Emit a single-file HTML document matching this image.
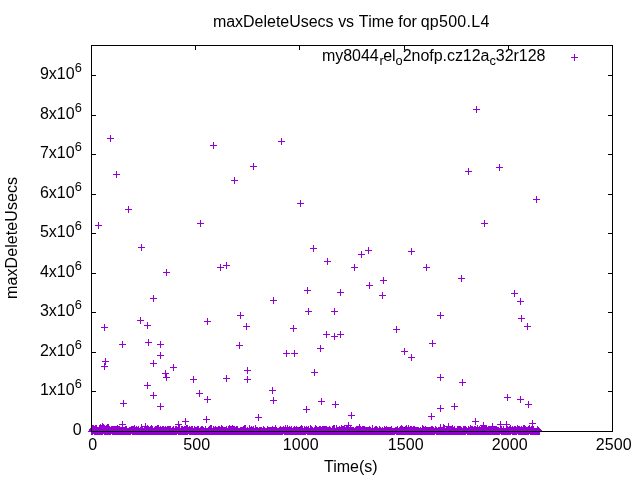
<!DOCTYPE html>
<html><head><meta charset="utf-8"><title>maxDeleteUsecs vs Time for qp500.L4</title>
<style>
html,body{margin:0;padding:0;background:#fff;}
body{width:640px;height:480px;overflow:hidden;}
svg{display:block;will-change:transform;}
text{font-family:"Liberation Sans",sans-serif;font-size:16px;fill:#000;}
</style></head><body>
<svg width="640" height="480" viewBox="0 0 640 480">
<path d="M91 431.5h5M613 431.5h-5M91 391.5h5M613 391.5h-5M91 352.5h5M613 352.5h-5M91 312.5h5M613 312.5h-5M91 273.5h5M613 273.5h-5M91 233.5h5M613 233.5h-5M91 194.5h5M613 194.5h-5M91 154.5h5M613 154.5h-5M91 115.5h5M613 115.5h-5M91 75.5h5M613 75.5h-5M91.5 432v-5M91.5 45v5M195.5 432v-5M195.5 45v5M299.5 432v-5M299.5 45v5M404.5 432v-5M404.5 45v5M508.5 432v-5M508.5 45v5M612.5 432v-5M612.5 45v5" stroke="#000" stroke-width="1" fill="none" shape-rendering="crispEdges"/>
<g id="labels">
<text x="81.75" y="434.9" text-anchor="end">0</text>
<text x="81.75" y="394.9" text-anchor="end">1x10<tspan dy="-6.8" font-size="12.8px">6</tspan></text>
<text x="81.75" y="355.9" text-anchor="end">2x10<tspan dy="-6.8" font-size="12.8px">6</tspan></text>
<text x="81.75" y="315.9" text-anchor="end">3x10<tspan dy="-6.8" font-size="12.8px">6</tspan></text>
<text x="81.75" y="276.9" text-anchor="end">4x10<tspan dy="-6.8" font-size="12.8px">6</tspan></text>
<text x="81.75" y="236.9" text-anchor="end">5x10<tspan dy="-6.8" font-size="12.8px">6</tspan></text>
<text x="81.75" y="197.9" text-anchor="end">6x10<tspan dy="-6.8" font-size="12.8px">6</tspan></text>
<text x="81.75" y="157.9" text-anchor="end">7x10<tspan dy="-6.8" font-size="12.8px">6</tspan></text>
<text x="81.75" y="118.9" text-anchor="end">8x10<tspan dy="-6.8" font-size="12.8px">6</tspan></text>
<text x="81.75" y="78.9" text-anchor="end">9x10<tspan dy="-6.8" font-size="12.8px">6</tspan></text>
<text x="92.75" y="450" text-anchor="middle" letter-spacing="0.1">0</text>
<text x="196.75" y="450" text-anchor="middle" letter-spacing="0.1">500</text>
<text x="300.75" y="450" text-anchor="middle" letter-spacing="0.1">1000</text>
<text x="405.75" y="450" text-anchor="middle" letter-spacing="0.1">1500</text>
<text x="509.75" y="450" text-anchor="middle" letter-spacing="0.1">2000</text>
<text x="613.75" y="450" text-anchor="middle" letter-spacing="0.1">2500</text>
<text x="212.9 226.21 235.09 243.07 254.6 263.48 267.01 275.89 280.32 289.2 300.73 308.71 317.59 325.57" y="27">maxDeleteUsecs</text>
<text x="338.13 346.03" y="27">vs</text>
<text x="358.64 368.28 371.71 384.91" y="27">Time</text>
<text x="398.34 402.68 411.46" y="27">for</text>
<text x="420.67 429.84 439 448.17 457.34 466.51 471.23 480.39" y="27">qp500.L4</text>
<text x="350.8" y="471.8" text-anchor="middle">Time(s)</text>
<text transform="translate(16.6,237.9) rotate(-90)" text-anchor="middle" letter-spacing="0.09">maxDeleteUsecs</text>
<text x="545.4" y="60.8" text-anchor="end" letter-spacing="-0.04">my8044<tspan dx="0.8" dy="4" font-size="12.8px">r</tspan><tspan dx="-0.4" dy="-4">el</tspan><tspan dy="4" font-size="12.8px">o</tspan><tspan dy="-4">2nofp.cz12a</tspan><tspan dy="4" font-size="12.8px">c</tspan><tspan dy="-4">32r128</tspan></text>
</g>
<path id="pts" d="M107 138.5h7M110.5 135v7M210 145.5h7M213.5 142v7M278 141.5h7M281.5 138v7M473 109.5h7M476.5 106v7M113 174.5h7M116.5 171v7M231 180.5h7M234.5 177v7M125 209.5h7M128.5 206v7M95 225.5h7M98.5 222v7M197 223.5h7M200.5 220v7M138 247.5h7M141.5 244v7M163 272.5h7M166.5 269v7M217 267.5h7M220.5 264v7M223 265.5h7M226.5 262v7M250 166.5h7M253.5 163v7M297 203.5h7M300.5 200v7M310 248.5h7M313.5 245v7M324 261.5h7M327.5 258v7M358 254.5h7M361.5 251v7M365 250.5h7M368.5 247v7M351 267.5h7M354.5 264v7M380 280.5h7M383.5 277v7M465 171.5h7M468.5 168v7M496 167.5h7M499.5 164v7M533 199.5h7M536.5 196v7M481 223.5h7M484.5 220v7M408 251.5h7M411.5 248v7M423 267.5h7M426.5 264v7M458 278.5h7M461.5 275v7M150 298.5h7M153.5 295v7M137 320.5h7M140.5 317v7M144 325.5h7M147.5 322v7M101 327.5h7M104.5 324v7M204 321.5h7M207.5 318v7M237 315.5h7M240.5 312v7M119 344.5h7M122.5 341v7M145 342.5h7M148.5 339v7M157 344.5h7M160.5 341v7M236 345.5h7M239.5 342v7M157 355.5h7M160.5 352v7M102 361.5h7M105.5 358v7M101 366.5h7M104.5 363v7M150 363.5h7M153.5 360v7M170 367.5h7M173.5 364v7M162 373.5h7M165.5 370v7M163 377.5h7M166.5 374v7M190 379.5h7M193.5 376v7M223 378.5h7M226.5 375v7M144 385.5h7M147.5 382v7M150 395.5h7M153.5 392v7M196 393.5h7M199.5 390v7M204 399.5h7M207.5 396v7M366 285.5h7M369.5 282v7M304 290.5h7M307.5 287v7M337 292.5h7M340.5 289v7M379 295.5h7M382.5 292v7M270 300.5h7M273.5 297v7M305 311.5h7M308.5 308v7M331 311.5h7M334.5 308v7M243 326.5h7M246.5 323v7M290 328.5h7M293.5 325v7M393 329.5h7M396.5 326v7M323 334.5h7M326.5 331v7M331 336.5h7M334.5 333v7M337 334.5h7M340.5 331v7M317 348.5h7M320.5 345v7M283 353.5h7M286.5 350v7M291 353.5h7M294.5 350v7M244 370.5h7M247.5 367v7M244 379.5h7M247.5 376v7M311 372.5h7M314.5 369v7M269 390.5h7M272.5 387v7M270 400.5h7M273.5 397v7M318 401.5h7M321.5 398v7M511 293.5h7M514.5 290v7M517 301.5h7M520.5 298v7M437 315.5h7M440.5 312v7M518 318.5h7M521.5 315v7M524 326.5h7M527.5 323v7M429 343.5h7M432.5 340v7M401 351.5h7M404.5 348v7M408 357.5h7M411.5 354v7M437 377.5h7M440.5 374v7M459 382.5h7M462.5 379v7M504 397.5h7M507.5 394v7M517 399.5h7M520.5 396v7M120 403.5h7M123.5 400v7M157 406.5h7M160.5 403v7M203 419.5h7M206.5 416v7M255 417.5h7M258.5 414v7M303 409.5h7M306.5 406v7M332 404.5h7M335.5 401v7M348 415.5h7M351.5 412v7M437 408.5h7M440.5 405v7M428 416.5h7M431.5 413v7M451 406.5h7M454.5 403v7M472 421.5h7M475.5 418v7M525 404.5h7M528.5 401v7M182 421.5h7M185.5 418v7M175 424.5h7M178.5 421v7M119 424.5h7M122.5 421v7M142 426.5h7M145.5 423v7M345 425.5h7M348.5 422v7M497 424.5h7M500.5 421v7M503 424.5h7M506.5 421v7M529 423.5h7M532.5 420v7M445 426.5h7M448.5 423v7M480 425.5h7M483.5 422v7M489 426.5h7M492.5 423v7M571 57.5h7M574.5 54v7" stroke="#9400d3" stroke-width="1" fill="none" shape-rendering="crispEdges"/>
<path id="band" d="M88 431h1v1h-1zM89 429h1v3h-1zM90 428h1v4h-1zM91 426h1v9h-1zM92 425h1v10h-1zM93 425h1v9h-1zM94 426h1v9h-1zM95 425h2v10h-2zM97 427h2v8h-2zM99 425h1v10h-1zM100 424h1v11h-1zM101 425h1v10h-1zM102 423h1v12h-1zM103 424h1v10h-1zM104 425h1v10h-1zM105 426h1v9h-1zM106 425h1v10h-1zM107 424h2v11h-2zM109 426h1v9h-1zM110 427h1v8h-1zM111 426h1v8h-1zM112 426h5v9h-5zM117 425h1v10h-1zM118 426h2v9h-2zM120 427h5v8h-5zM125 426h2v9h-2zM127 428h2v7h-2zM129 427h2v8h-2zM131 426h1v8h-1zM132 426h2v9h-2zM134 425h1v10h-1zM135 427h1v8h-1zM136 426h1v9h-1zM137 427h1v8h-1zM138 426h1v9h-1zM139 428h1v7h-1zM140 427h1v8h-1zM141 424h1v11h-1zM142 426h1v9h-1zM143 428h1v7h-1zM144 426h1v9h-1zM145 428h1v7h-1zM146 426h1v9h-1zM147 425h1v10h-1zM148 427h2v8h-2zM150 426h1v9h-1zM151 425h1v10h-1zM152 426h1v9h-1zM153 428h1v7h-1zM154 427h1v8h-1zM155 426h2v9h-2zM157 425h2v10h-2zM159 427h1v8h-1zM160 426h1v9h-1zM161 427h1v8h-1zM162 426h2v9h-2zM164 427h1v8h-1zM165 426h1v9h-1zM166 427h1v8h-1zM167 426h4v9h-4zM171 428h1v7h-1zM172 427h1v8h-1zM173 426h1v9h-1zM174 428h1v7h-1zM175 426h2v9h-2zM177 427h1v7h-1zM178 427h1v8h-1zM179 425h1v10h-1zM180 428h1v7h-1zM181 426h2v9h-2zM183 427h1v8h-1zM184 426h2v9h-2zM186 425h2v10h-2zM188 427h1v7h-1zM189 426h1v9h-1zM190 427h1v8h-1zM191 426h2v9h-2zM193 428h1v7h-1zM194 426h1v9h-1zM195 427h2v8h-2zM197 426h2v9h-2zM199 428h1v7h-1zM200 427h1v8h-1zM201 426h2v9h-2zM203 427h1v8h-1zM204 428h1v7h-1zM205 426h1v9h-1zM206 428h2v7h-2zM208 427h1v8h-1zM209 426h1v9h-1zM210 425h2v10h-2zM212 428h1v7h-1zM213 426h1v9h-1zM214 427h1v8h-1zM215 426h1v9h-1zM216 427h2v8h-2zM218 426h2v9h-2zM220 427h1v8h-1zM221 425h1v10h-1zM222 426h1v9h-1zM223 427h3v8h-3zM226 426h1v9h-1zM227 428h1v7h-1zM228 426h1v9h-1zM229 425h1v10h-1zM230 426h2v9h-2zM232 425h1v10h-1zM233 426h2v9h-2zM235 427h1v8h-1zM236 426h2v9h-2zM238 428h2v7h-2zM240 427h3v8h-3zM243 426h1v9h-1zM244 425h2v10h-2zM246 428h1v7h-1zM247 427h1v8h-1zM248 428h1v7h-1zM249 425h1v10h-1zM250 427h1v8h-1zM251 426h1v9h-1zM252 427h1v8h-1zM253 426h1v9h-1zM254 428h1v7h-1zM255 425h1v10h-1zM256 427h2v8h-2zM258 428h1v7h-1zM259 427h3v8h-3zM262 428h1v7h-1zM263 426h1v9h-1zM264 427h1v8h-1zM265 428h2v7h-2zM267 426h1v9h-1zM268 427h4v8h-4zM272 426h1v9h-1zM273 427h2v8h-2zM275 425h1v10h-1zM276 427h1v8h-1zM277 428h2v7h-2zM279 427h1v8h-1zM280 426h1v9h-1zM281 427h2v8h-2zM283 426h1v8h-1zM284 427h1v8h-1zM285 425h1v10h-1zM286 427h1v8h-1zM287 425h1v10h-1zM288 427h1v8h-1zM289 426h1v9h-1zM290 427h1v8h-1zM291 426h1v9h-1zM292 428h1v7h-1zM293 427h1v8h-1zM294 426h1v9h-1zM295 427h1v8h-1zM296 426h1v9h-1zM297 427h2v8h-2zM299 428h1v7h-1zM300 426h1v9h-1zM301 425h1v10h-1zM302 426h1v9h-1zM303 428h1v7h-1zM304 426h1v9h-1zM305 427h1v8h-1zM306 426h1v8h-1zM307 427h1v8h-1zM308 426h1v9h-1zM309 428h1v7h-1zM310 425h1v10h-1zM311 426h1v9h-1zM312 427h1v8h-1zM313 428h1v7h-1zM314 427h1v8h-1zM315 425h1v10h-1zM316 426h1v9h-1zM317 427h2v8h-2zM319 426h2v9h-2zM321 427h1v8h-1zM322 426h5v9h-5zM327 427h2v8h-2zM329 426h1v9h-1zM330 427h1v8h-1zM331 428h1v7h-1zM332 426h1v9h-1zM333 425h2v10h-2zM335 428h1v7h-1zM336 425h1v10h-1zM337 427h2v8h-2zM339 426h1v9h-1zM340 427h1v8h-1zM341 425h1v10h-1zM342 426h2v9h-2zM344 425h1v10h-1zM345 427h1v8h-1zM346 426h2v9h-2zM348 425h1v10h-1zM349 427h1v8h-1zM350 426h1v9h-1zM351 427h3v8h-3zM354 428h1v7h-1zM355 427h1v8h-1zM356 426h3v9h-3zM359 424h1v11h-1zM360 426h1v9h-1zM361 427h1v8h-1zM362 426h3v9h-3zM365 427h4v8h-4zM369 426h1v9h-1zM370 427h1v8h-1zM371 428h1v7h-1zM372 425h1v10h-1zM373 428h1v7h-1zM374 427h1v8h-1zM375 426h2v9h-2zM377 427h1v8h-1zM378 428h1v7h-1zM379 426h1v9h-1zM380 427h1v8h-1zM381 428h1v7h-1zM382 427h1v8h-1zM383 428h1v7h-1zM384 426h1v9h-1zM385 427h1v8h-1zM386 426h1v9h-1zM387 427h4v8h-4zM391 426h1v9h-1zM392 428h3v7h-3zM395 427h1v7h-1zM396 427h1v8h-1zM397 426h1v9h-1zM398 428h1v7h-1zM399 427h1v8h-1zM400 426h1v9h-1zM401 425h1v10h-1zM402 426h1v9h-1zM403 427h1v8h-1zM404 428h1v7h-1zM405 426h1v9h-1zM406 425h1v10h-1zM407 427h1v8h-1zM408 425h1v10h-1zM409 427h1v8h-1zM410 426h2v9h-2zM412 427h1v8h-1zM413 426h2v9h-2zM415 427h4v8h-4zM419 428h1v7h-1zM420 427h1v8h-1zM421 428h1v7h-1zM422 425h1v10h-1zM423 426h1v9h-1zM424 427h1v8h-1zM425 426h1v9h-1zM426 427h5v8h-5zM431 426h2v9h-2zM433 427h1v8h-1zM434 428h1v7h-1zM435 426h1v8h-1zM436 427h1v8h-1zM437 428h1v7h-1zM438 427h2v8h-2zM440 424h1v11h-1zM441 427h2v8h-2zM443 424h1v11h-1zM444 425h1v10h-1zM445 428h1v7h-1zM446 427h1v8h-1zM447 426h1v9h-1zM448 427h4v8h-4zM452 425h1v10h-1zM453 427h1v8h-1zM454 426h1v9h-1zM455 428h2v7h-2zM457 426h4v9h-4zM461 427h1v8h-1zM462 428h1v7h-1zM463 426h3v9h-3zM466 427h1v7h-1zM467 428h1v7h-1zM468 426h1v9h-1zM469 427h1v8h-1zM470 425h1v10h-1zM471 426h2v9h-2zM473 427h1v8h-1zM474 426h2v9h-2zM476 427h1v8h-1zM477 425h1v10h-1zM478 427h1v8h-1zM479 426h1v9h-1zM480 427h1v8h-1zM481 426h2v9h-2zM483 427h1v8h-1zM484 426h3v9h-3zM487 427h1v8h-1zM488 426h2v9h-2zM490 427h6v8h-6zM496 426h1v9h-1zM497 427h2v8h-2zM499 428h1v7h-1zM500 426h1v8h-1zM501 426h1v9h-1zM502 428h1v7h-1zM503 426h1v9h-1zM504 428h2v7h-2zM506 426h2v9h-2zM508 427h1v8h-1zM509 426h1v9h-1zM510 425h1v10h-1zM511 427h1v7h-1zM512 426h1v9h-1zM513 427h1v8h-1zM514 426h2v9h-2zM516 427h1v8h-1zM517 425h1v9h-1zM518 426h2v9h-2zM520 427h1v8h-1zM521 426h1v9h-1zM522 427h1v8h-1zM523 425h2v10h-2zM525 426h1v9h-1zM526 427h2v8h-2zM528 426h1v9h-1zM529 425h1v9h-1zM530 427h1v8h-1zM531 426h3v9h-3zM534 428h3v7h-3zM537 426h1v9h-1zM538 427h1v8h-1zM539 428h1v7h-1zM540 429h1v3h-1zM541 430h1v2h-1z" fill="#9400d3" stroke="none" shape-rendering="crispEdges"/>
<rect x="91.5" y="45.5" width="521" height="386" fill="none" stroke="#000" stroke-width="1" shape-rendering="crispEdges"/>
</svg>
</body></html>
